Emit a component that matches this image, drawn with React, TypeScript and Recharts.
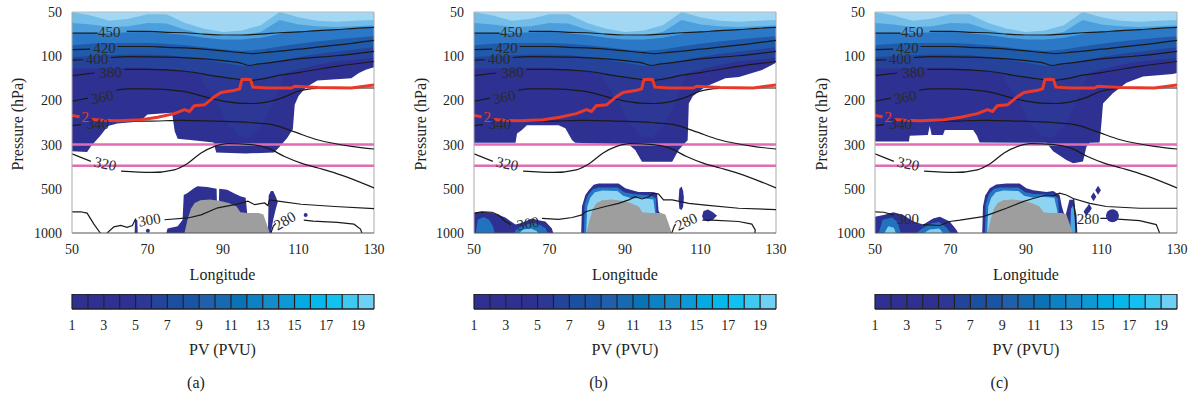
import React from 'react'
import { ComposedChart, Area, Line, Scatter, XAxis, YAxis, ReferenceLine } from 'recharts'

const FONT = "'Liberation Serif', 'Times New Roman', serif"
const INK = '#231f20'
const NAVY = '#2e3192'

// axes: pressure levels are evenly spaced, 0 = 1000 hPa ... 5 = 50 hPa
const PRESSURE_LABELS = ['1000', '500', '300', '200', '100', '50']
const PRESSURE_POS = [0, 1, 2, 3, 4, 5]
const LON_TICKS = [50, 70, 90, 110, 130]
const PV_TICKS = [1, 3, 5, 7, 9, 11, 13, 15, 17, 19]
const PV_EDGES = [1, 2, 3, 4, 5, 6, 7, 8, 9, 10, 11, 12, 13, 14, 15, 16, 17, 18, 19, 20]
const PV_COLORS = [
  '#2e3192', '#2e3192', '#2e3192', '#2e3192', '#2d3894', '#22449a', '#1b4fa0', '#1a55a5', '#1f5fac', '#166ab2',
  '#0a73b8', '#0c82c4', '#158bca', '#0c99d5', '#04aae1', '#05b7ea', '#12c1f1', '#3ec8f2', '#6dd0f4',
]

// upper PV field, lower edge of each colour band on a 5 degree grid
const X_TOP = [50, 55, 60, 65, 70, 75, 80, 85, 90, 95, 100, 105, 110, 115, 120, 125, 130]
const L2_LO = [3.72, 3.72, 3.72, 3.74, 3.74, 3.7, 3.66, 3.6, 3.52, 3.47, 3.5, 3.58, 3.7, 3.8, 3.88, 3.92, 3.96]
const L3_LO = [3.98, 4.0, 4.02, 4.04, 4.04, 4.02, 3.98, 3.92, 3.85, 3.78, 3.8, 3.9, 3.98, 4.05, 4.1, 4.15, 4.2]
const L4_LO = [4.25, 4.28, 4.3, 4.3, 4.3, 4.28, 4.25, 4.2, 4.15, 4.12, 4.15, 4.22, 4.28, 4.33, 4.38, 4.42, 4.45]
const L5_LO = [4.5, 4.52, 4.52, 4.54, 4.55, 4.52, 4.48, 4.42, 4.38, 4.38, 4.42, 4.5, 4.55, 4.58, 4.6, 4.62, 4.65]
const L6_LO = [4.75, 4.72, 4.66, 4.68, 4.75, 4.74, 4.6, 4.5, 4.45, 4.48, 4.55, 4.82, 4.72, 4.68, 4.66, 4.68, 4.7]
const L7_LO = [5, 4.92, 4.8, 4.85, 4.95, 4.95, 4.75, 4.62, 4.55, 4.58, 4.7, 5, 4.88, 4.8, 4.78, 4.8, 4.82]
const TOP_BANDS: [number[], string][] = [
  [L2_LO, '#26429a'], [L3_LO, '#1f5aab'], [L4_LO, '#2a78c6'],
  [L5_LO, '#4c9fdc'], [L6_LO, '#74bde9'], [L7_LO, '#a2d8f4'],
]
const COLUMN = [[84, 3.5, 3.6], [88, 3.0, 3.6], [91, 2.5, 3.6], [94, 2.2, 3.6], [97, 2.15, 3.6], [100, 2.4, 3.6], [103, 2.9, 3.6], [106, 3.5, 3.6]]

// lower edge of the upper PV field, one per panel
const BOUND_A = [
  [50, 1.85], [54, 1.83], [55, 1.96], [57.5, 2.2], [59.5, 2.42], [62, 2.48], [68, 2.52], [70, 2.68], [76.5, 2.72],
  [77.2, 2.3], [78, 2.13], [82, 2.1], [87.5, 2.05], [88.2, 1.82], [96, 1.8], [103.5, 1.82], [105, 1.95], [107, 2.15],
  [108.5, 2.35], [109, 2.9], [110, 3.1], [112, 3.3], [115, 3.45], [120, 3.48], [124, 3.5], [126, 3.62], [128, 3.7], [130, 3.75],
]
const BOUND_B = [
  [50, 2.04], [61, 2.04], [61.4, 2.25], [62.7, 2.33], [64, 2.44], [72.4, 2.44], [74.2, 2.37], [76, 2.1], [76.8, 2.04],
  [91, 2.0], [92.7, 1.88], [94.5, 1.61], [102.5, 1.61], [104.2, 1.88], [106, 2.05], [106.6, 2.1], [106.9, 2.93],
  [108, 3.1], [111.3, 3.31], [116.6, 3.5], [120.2, 3.53], [126.3, 3.69], [128.9, 3.8], [130, 3.85],
]
const BOUND_C = [
  [50, 2.07], [59, 2.07], [59.2, 2.2], [64, 2.22], [64.5, 2.42], [65, 2.22], [68, 2.22], [68.5, 2.33], [76, 2.33],
  [77, 2.2], [77.7, 2.05], [95.4, 2.04], [97.2, 1.85], [100.7, 1.65], [102.5, 1.58], [105.1, 1.62], [106, 1.95],
  [106.9, 2.04], [109.5, 2.05], [110, 2.5], [110.4, 2.93], [113, 3.16], [116.6, 3.4], [121, 3.54], [128.9, 3.6], [130, 3.62],
]

const TERRAIN = [
  [79.8, 0], [80.6, 0.3], [81.5, 0.55], [82.5, 0.68], [84, 0.74], [86.5, 0.76], [89, 0.73], [91.5, 0.68], [93.6, 0.6],
  [94.6, 0.47], [96.5, 0.45], [99.5, 0.45], [100.7, 0.42], [101.6, 0.2], [102.4, 0],
]

// low-level PV blobs (top edge, from the ground) and free blobs [x, lo, hi]
const LOW_A = [
  [75, 0], [75.3, 0.1], [78, 0.15], [79.3, 0.3], [79.6, 0.86], [80.5, 0.9], [82.3, 1.01], [83.2, 1.06], [85.8, 1.04],
  [87.6, 1.01], [88.3, 1.0], [88.4, 0.68], [88.9, 0.68], [89.0, 1.0], [91.1, 0.98], [92.9, 0.9], [94.6, 0.83], [96, 0.8], [96.4, 0.45], [97, 0],
]
const SIDE_A = [[101.9, 0, 0], [102.1, 0, 0.85], [102.7, 0, 0.95], [103.3, 0.3, 0.95], [104, 0.55, 0.82], [104.5, 0.7, 0.7]]
const SLIVER_A = [[66.6, 0, 0], [66.7, 0, 0.3], [67.3, 0, 0.3], [67.4, 0, 0]]
const DOTS_A = [[111.9, 0.41], [70.1, 0.05]]

const LOW_B = [
  [78.4, 0], [78.6, 0.6], [79.5, 0.86], [80.4, 0.97], [81.7, 1.09], [83, 1.12], [88.3, 1.12], [90.1, 1.01], [91.9, 0.97],
  [93.6, 0.93], [97.2, 0.93], [98.5, 0.9], [98.9, 0.5], [99.5, 0.42], [100, 0],
]
const MID_B = [[79.1, 0], [79.3, 0.65], [80.2, 0.86], [81.5, 0.99], [83, 1.03], [88, 1.03], [89.8, 0.92], [92, 0.88], [97, 0.85], [98.2, 0.78], [98.5, 0]]
const LIGHT_B = [[79.7, 0], [80, 0.6], [80.8, 0.8], [82, 0.92], [84, 0.96], [88, 0.95], [89.5, 0.84], [92, 0.78], [94, 0.8], [97.5, 0.76], [98, 0.45], [98.2, 0]]
const LEFT_B = [[50, 0.45], [52.1, 0.48], [54.8, 0.45], [56.6, 0.41], [58.3, 0.35], [61, 0.19], [62.7, 0.23], [65.4, 0.33], [67.1, 0.29], [68.9, 0.26], [70.6, 0.11], [71, 0]]
const LEFT_MID_B = [[50.5, 0], [51, 0.3], [52.5, 0.36], [54, 0.3], [55, 0.15], [55.5, 0]]
const LEFT_MID_B2 = [[60.5, 0], [61.5, 0.1], [63, 0.16], [65.5, 0.24], [67.5, 0.18], [69, 0.1], [69.5, 0]]
const LEFT_LIGHT_B = [[62, 0], [63, 0.08], [65, 0.1], [66.5, 0.05], [67, 0]]
const VBLOB_B = [[104.2, 0.75, 0.75], [104.4, 0.55, 1.0], [105, 0.52, 1.05], [105.4, 0.6, 0.95], [105.6, 0.8, 0.8]]
const RBLOB_B = [[110.4, 0.38, 0.38], [110.8, 0.3, 0.5], [112, 0.26, 0.53], [113.3, 0.3, 0.47], [114, 0.36, 0.42], [114.4, 0.39, 0.39]]

const LOW_C = [
  [78.4, 0], [78.6, 0.6], [79.2, 0.85], [80.4, 1.01], [82.1, 1.1], [84.8, 1.12], [88.3, 1.12], [90.1, 1.01], [91.9, 0.97],
  [95.4, 0.93], [97.2, 0.95], [98.9, 0.86], [99.5, 0.6], [100, 0.45], [100.5, 0.4], [101.5, 0.75], [102.5, 0.75], [103.4, 0.4], [103.6, 0],
]
const MID_C = [[79.1, 0], [79.3, 0.65], [80.2, 0.88], [81.5, 1.0], [83, 1.03], [88, 1.03], [89.8, 0.92], [92, 0.88], [97, 0.87], [98.5, 0.78], [99, 0]]
const LIGHT_C = [[79.7, 0], [80, 0.6], [80.8, 0.8], [82, 0.92], [84, 0.96], [88, 0.95], [89.5, 0.84], [92, 0.8], [94, 0.82], [97.5, 0.8], [98.3, 0.5], [98.5, 0]]
const SIDE_MID_C = [[101.7, 0], [101.9, 0.55], [102.5, 0.62], [103, 0.35], [103.2, 0]]
const LEFT_C = [[50, 0.37], [52.3, 0.41], [54.9, 0.47], [57.5, 0.41], [60.2, 0.26], [62.8, 0.19], [65.4, 0.33], [67.2, 0.37], [69.8, 0.26], [71.6, 0.07], [72, 0]]
const LEFT_MID_C = [[51, 0], [52, 0.3], [54.5, 0.35], [56, 0.25], [56.8, 0]]
const LEFT_MID_C2 = [[61, 0], [62.5, 0.1], [65, 0.22], [67, 0.25], [69, 0.12], [70, 0]]
const LEFT_LIGHT_C = [[52.5, 0], [53.5, 0.15], [55, 0.12], [55.5, 0]]
const LEFT_LIGHT_C2 = [[63, 0], [64.5, 0.08], [67, 0.1], [68, 0]]
const DIAMONDS_C = [[109.1, 0.97], [107.9, 0.82], [106.7, 0.56], [106.0, 0.48]]
const ROUND_C = [[112.9, 0.39]]

// isentropes (K) shared by the three panels; null = gap for the label
const C450 = [[50, 4.52], [56.8, 4.52], [60, null], [64.5, 4.56], [70, 4.56], [75, 4.54], [80, 4.53], [85, 4.5], [90, 4.48], [95, 4.48], [100, 4.5], [105, 4.53], [110, 4.55], [115, 4.58], [120, 4.6], [125, 4.63], [130, 4.65]]
const C420 = [[50, 4.15], [54.8, 4.16], [58, null], [62.1, 4.22], [70, 4.22], [75, 4.2], [80, 4.19], [85, 4.16], [90, 4.12], [95, 4.08], [98, 4.06], [102, 4.09], [110, 4.16], [120, 4.25], [130, 4.36]]
const C400 = [[50, 3.91], [53, 3.92], [56, null], [60.3, 3.97], [65, 3.99], [75, 3.98], [85, 3.94], [90, 3.9], [94, 3.86], [97, 3.79], [99, 3.82], [102, 3.85], [110, 3.94], [120, 4.01], [130, 4.11]]
const C380 = [[50, 3.56], [55.9, 3.62], [59, null], [63.9, 3.7], [70, 3.7], [80, 3.66], [88, 3.55], [93, 3.49], [97, 3.45], [100, 3.48], [105, 3.57], [110, 3.63], [120, 3.77], [130, 3.88]]
const C360 = [[50, 2.98], [54.2, 3.05], [57, null], [61.7, 3.23], [65, 3.26], [70, 3.26], [79, 3.21], [88, 3.02], [94, 2.94], [98, 2.93], [101.5, 2.96], [105.5, 3.05], [110, 3.21], [115, 3.27], [120, 3.28], [130, 3.28]]
const C340 = [[50, 2.43], [52.4, 2.45], [56, null], [60.3, 2.53], [70, 2.53], [79, 2.55], [88, 2.53], [97, 2.5], [103, 2.45], [108.5, 2.3], [115, 2.11], [124, 1.96], [130, 1.9]]
const C320 = [[50, 1.79], [55, 1.62], [58, null], [63, 1.4], [71, 1.37], [77.1, 1.43], [80.7, 1.58], [84.2, 1.81], [87.8, 1.96], [91.3, 2.02], [97.5, 2.0], [101.9, 1.92], [106.3, 1.73], [110.7, 1.58], [115.2, 1.47], [119.6, 1.36], [130, 1.02]]
const UPPER_LINES = [C450, C420, C400, C380, C360, C340, C320]

// 2 PVU line
const RED = [
  [50, 2.66], [52, 2.63], [53.5, null], [55.2, 2.57], [58, 2.55], [62.1, 2.54], [68.3, 2.56], [72.7, 2.62], [77.1, 2.7],
  [79.8, 2.79], [81.1, 2.75], [82.4, 2.88], [85.1, 2.9], [87.8, 3.09], [89.5, 3.18], [93.1, 3.23], [94.4, 3.26], [95, 3.47],
  [96.2, 3.48], [97.3, 3.47], [97.9, 3.3], [101.9, 3.28], [108.1, 3.28], [109, 3.32], [115.2, 3.29], [124, 3.28], [130, 3.35],
]

const A300 = [[74.5, 0.3], [80.7, 0.34], [84.2, 0.41], [88.6, 0.57], [93.1, 0.64], [96.6, 0.72], [98.4, 0.64], [101, 0.68], [101.9, 0.62], [102.3, 0.75], [104.6, 0.72], [110.7, 0.65], [119.6, 0.6], [130, 0.55]]
const A300_LEFT = [[50, 0.48], [52.3, 0.48], [54, 0.45], [55.8, 0.2], [57.5, 0]]
const A300_SQ = [[59.3, 0], [61.1, 0.14], [62.9, 0.17], [64.6, 0.13], [66, 0.17], [66.9, 0.33]]
const A280 = [[102.7, 0], [103.3, 0.15], [104, 0.22], [105, null], [111.4, 0.29], [113.9, 0.27], [120.3, 0.24], [124.7, 0.2], [126.4, 0.09], [126.8, 0]]
const B300 = [[50, 0.45], [52.1, 0.48], [54.8, 0.47], [56.6, 0.4], [58.3, 0.26], [59.8, 0.19], [61, null], [68, 0.33], [72.4, 0.31], [76, 0.35], [78.6, 0.41], [79.5, 0.48], [84.8, 0.6], [88.3, 0.67], [91, 0.75], [92.7, 0.82], [94.5, 0.77], [96.3, 0.82], [97.6, 0.9], [98.9, 0.88], [100.2, 0.75], [102.5, 0.75], [106.9, 0.67], [111.3, 0.63], [120.1, 0.56], [130, 0.53]]
const B280 = [[102.4, 0], [103, 0.14], [103.4, 0.2], [104, null], [110.5, 0.29], [113, 0.29], [120.1, 0.26], [123.6, 0.2], [124.5, 0.07], [124.4, 0]]
const C300L = [[50, 0.48], [52.3, 0.47], [54.9, 0.41], [55.5, null], [62.7, 0.19], [67.2, 0.17], [69.8, 0.26], [72.5, 0.29], [78.6, 0.37], [81.3, 0.45], [84.8, 0.56], [89.2, 0.71], [91.9, 0.78], [95.4, 0.86], [97.2, 0.84], [98.9, 0.9], [100.7, 0.86], [102.5, 0.78], [106.9, 0.67], [111.3, 0.6], [120.1, 0.56], [130, 0.56]]
const C280A = [[102.6, 0.78], [103, 0.4], [103.3, 0]]
const C280B = [[109.7, 0.33], [111.3, 0.33], [120.1, 0.28], [124.5, 0.19], [125.4, 0]]

// contour labels: [lon, level, text, angle]
const UPPER_LABELS: [number, number, string, number][] = [
  [59.9, 4.56, '450', 0], [58.6, 4.19, '420', 0], [56.6, 3.94, '400', 0], [60.2, 3.64, '380', -3],
  [58, 3.08, '360', -12], [56.8, 2.48, '340', 0], [58.8, 1.57, '320', 12],
]
const RED_LABEL: [number, number, string, number][] = [[53.5, 2.63, '2', 0]]

type Pt = (number | null)[]
const toTop = (pts: Pt[]) => pts.map(([x, lo]) => ({ x, r: [lo, 5] }))
const toGround = (pts: Pt[]) => pts.map(([x, hi]) => ({ x, r: [0, hi] }))
const toBand = (pts: Pt[]) => pts.map(([x, lo, hi]) => ({ x, r: [lo, hi] }))
const toLine = (pts: Pt[]) => pts.map(([x, y]) => ({ x, y }))
const toLabels = (l: [number, number, string, number][]) => l.map(([x, y, t, a]) => ({ x, y, t, a }))

interface PanelCfg {
  name: string
  left: number
  bound: Pt[]
  ground: [Pt[], string][]
  bands: Pt[][]
  lines: Pt[][]
  labels: [number, number, string, number][]
  dots: Pt[]
  diamonds: Pt[]
  rounds: Pt[]
}

const PANELS: PanelCfg[] = [
  {
    name: '(a)', left: 71.5, bound: BOUND_A,
    ground: [[LOW_A, NAVY]],
    bands: [SIDE_A, SLIVER_A],
    lines: [A300, A300_LEFT, A300_SQ, A280],
    labels: [[70.5, 0.3, '300', -10], [106.3, 0.28, '280', -30]],
    dots: DOTS_A, diamonds: [], rounds: [],
  },
  {
    name: '(b)', left: 474, bound: BOUND_B,
    ground: [[LEFT_B, NAVY], [LEFT_MID_B, '#2173c0'], [LEFT_MID_B2, '#2173c0'], [LEFT_LIGHT_B, '#7fcdf1'],
      [LOW_B, NAVY], [MID_B, '#2378c4'], [LIGHT_B, '#8fd3f2']],
    bands: [VBLOB_B, RBLOB_B],
    lines: [B300, B280],
    labels: [[64.3, 0.22, '300', -10], [106.2, 0.26, '280', -25]],
    dots: [], diamonds: [], rounds: [],
  },
  {
    name: '(c)', left: 875, bound: BOUND_C,
    ground: [[LEFT_C, NAVY], [LEFT_MID_C, '#2173c0'], [LEFT_MID_C2, '#2173c0'], [LEFT_LIGHT_C, '#7fcdf1'], [LEFT_LIGHT_C2, '#7fcdf1'],
      [LOW_C, NAVY], [MID_C, '#2378c4'], [SIDE_MID_C, '#4aa6de'], [LIGHT_C, '#8fd3f2']],
    bands: [],
    lines: [C300L, C280A, C280B],
    labels: [[58.7, 0.32, '300', 0], [106.4, 0.33, '280', 0]],
    dots: [], diamonds: DIAMONDS_C, rounds: ROUND_C,
  },
]

const PLOT_W = 302
const CHART_W = 60 + PLOT_W + 20

const xTick = (p: any) => (
  <text x={p.x} y={p.y + 8} textAnchor="middle" dy="0.35em" fontSize={14} fontFamily={FONT} fill={INK}>
    {p.payload.value}
  </text>
)
const yTick = (p: any) => (
  <text x={p.x - 2} y={p.y} textAnchor="end" dy="0.35em" fontSize={14} fontFamily={FONT} fill={INK}>
    {PRESSURE_LABELS[p.payload.value]}
  </text>
)
const labelShape = (color: string) => (p: any) => (
  <text x={p.cx} y={p.cy} textAnchor="middle" dy="0.35em" fontSize={15} fontFamily={FONT} fill={color}
    transform={`rotate(${p.payload.a} ${p.cx} ${p.cy})`}>
    {p.payload.t}
  </text>
)
const dotShape = (p: any) => <circle cx={p.cx} cy={p.cy} r={2} fill={NAVY} />
const roundShape = (p: any) => <circle cx={p.cx} cy={p.cy} r={6.5} fill={NAVY} />
const diamondShape = (p: any) => <path d={`M${p.cx},${p.cy - 4.5}L${p.cx + 2.8},${p.cy}L${p.cx},${p.cy + 4.5}L${p.cx - 2.8},${p.cy}Z`} fill={NAVY} />

const area = (key: string, data: any[], fill: string) => (
  <Area key={key} data={data} dataKey="r" type="linear" stroke="none" fill={fill} fillOpacity={1}
    dot={false} activeDot={false} isAnimationActive={false} />
)
const line = (key: string, pts: Pt[], stroke: string, w: number, type: 'linear' | 'monotone' = 'linear') => (
  <Line key={key} data={toLine(pts)} dataKey="y" type={type} stroke={stroke} strokeWidth={w}
    dot={false} activeDot={false} isAnimationActive={false} />
)

function Panel({ cfg }: { cfg: PanelCfg }) {
  return (
    <div style={{ position: 'absolute', left: cfg.left - 60, top: 0 }}>
      <ComposedChart width={CHART_W} height={263} margin={{ top: 12, right: 20, bottom: 0, left: 0 }}>
        <XAxis dataKey="x" type="number" domain={[50, 130]} ticks={LON_TICKS} allowDataOverflow
          height={30} tick={xTick} tickLine={false} axisLine={{ stroke: '#555' }} />
        <YAxis type="number" domain={[0, 5]} ticks={PRESSURE_POS} allowDataOverflow
          width={60} tick={yTick} tickLine={false} axisLine={{ stroke: '#aaa' }} />
        {area('bound', toTop(cfg.bound), NAVY)}
        {area('column', toBand(COLUMN), '#2d3795')}
        {TOP_BANDS.map(([lo, c], i) => area('top' + i, X_TOP.map((x, j) => ({ x, r: [lo[j], 5] })), c))}
        {cfg.ground.map(([pts, c], i) => area('g' + i, toGround(pts), c))}
        {cfg.bands.map((pts, i) => area('b' + i, toBand(pts), NAVY))}
        {area('terrain', toGround(TERRAIN), '#9e9e9e')}
        <ReferenceLine y={5} stroke="#bbb" />
        <ReferenceLine x={130} stroke="#aaa" />
        <ReferenceLine y={2} stroke="#df6cb4" strokeWidth={2.5} />
        <ReferenceLine y={1.52} stroke="#df6cb4" strokeWidth={2.5} />
        {UPPER_LINES.map((pts, i) => line('u' + i, pts, '#1a1a1a', 1.2, 'monotone'))}
        {cfg.lines.map((pts, i) => line('l' + i, pts, '#1a1a1a', 1.2))}
        {line('red', RED, '#e8392a', 3)}
        {cfg.dots.length > 0 && <Scatter data={toLine(cfg.dots)} dataKey="y" shape={dotShape} isAnimationActive={false} />}
        {cfg.diamonds.length > 0 && <Scatter data={toLine(cfg.diamonds)} dataKey="y" shape={diamondShape} isAnimationActive={false} />}
        {cfg.rounds.length > 0 && <Scatter data={toLine(cfg.rounds)} dataKey="y" shape={roundShape} isAnimationActive={false} />}
        <Scatter data={toLabels([...UPPER_LABELS, ...cfg.labels])} dataKey="y" shape={labelShape('#2a2a2a')} isAnimationActive={false} />
        <Scatter data={toLabels(RED_LABEL)} dataKey="y" shape={labelShape('#e8392a')} isAnimationActive={false} />
      </ComposedChart>
    </div>
  )
}

function ColorBar({ left }: { left: number }) {
  return (
    <div style={{ position: 'absolute', left: left - 60, top: 294 }}>
      <ComposedChart width={CHART_W} height={45} margin={{ top: 0, right: 20, bottom: 0, left: 60 }}>
        <XAxis dataKey="x" type="number" domain={[1, 20]} ticks={PV_TICKS} allowDataOverflow
          height={30} tick={xTick} tickLine={false} axisLine={false} />
        <YAxis type="number" domain={[0, 1]} hide allowDataOverflow />
        {PV_COLORS.map((c, i) => area('pv' + i, [{ x: i + 1, r: [0, 1] }, { x: i + 2, r: [0, 1] }], c))}
        {PV_EDGES.map(e => <ReferenceLine key={e} x={e} stroke={INK} strokeWidth={1.2} />)}
        <ReferenceLine y={0} stroke={INK} strokeWidth={1.5} />
        <ReferenceLine y={1} stroke={INK} strokeWidth={1.5} />
      </ComposedChart>
    </div>
  )
}

const Title = ({ x, y, text, rotate = 0 }: { x: number; y: number; text: string; rotate?: number }) => (
  <div style={{
    position: 'absolute', left: x, top: y, transform: `translate(-50%, -50%) rotate(${rotate}deg)`,
    fontFamily: FONT, fontSize: 16, color: INK, whiteSpace: 'nowrap', lineHeight: 1,
  }}>{text}</div>
)

export default function App() {
  return (
    <div style={{ position: 'absolute', left: 0, top: 0, width: 1196, height: 400, background: '#fff', overflow: 'hidden' }}>
      {PANELS.map(p => (
        <React.Fragment key={p.name}>
          <Panel cfg={p} />
          <ColorBar left={p.left} />
          <Title x={p.left - 53.5} y={124} text="Pressure (hPa)" rotate={-90} />
          <Title x={p.left + 151} y={275} text="Longitude" />
          <Title x={p.left + 151} y={350} text="PV (PVU)" />
          <Title x={p.left + 124.5} y={383} text={p.name} />
        </React.Fragment>
      ))}
    </div>
  )
}
